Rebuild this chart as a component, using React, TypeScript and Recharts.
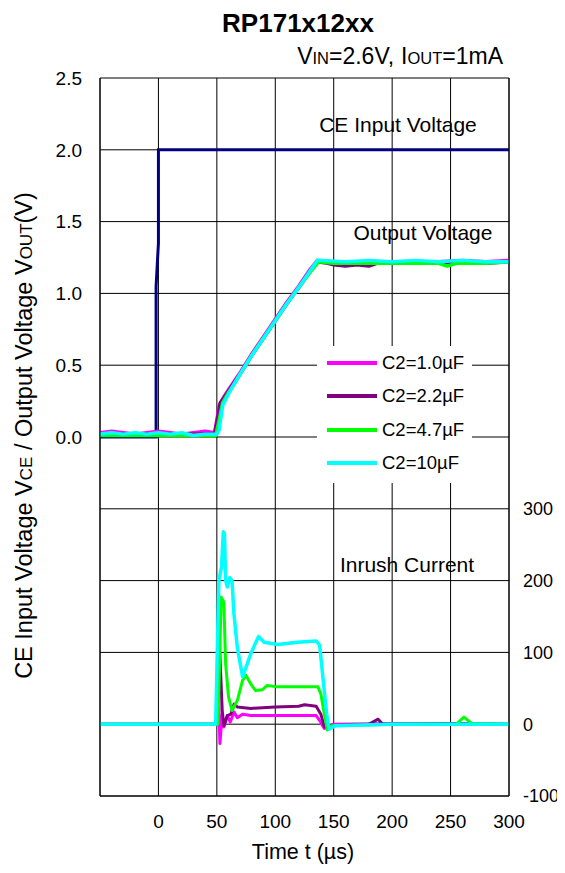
import React from 'react'
import { LineChart, Line, XAxis, YAxis, CartesianGrid, Legend } from 'recharts'

const FONT = 'Arial, "Liberation Sans", sans-serif'

// CE input voltage step (V)
const ceTime = [-50, -2, -2, 0, 0, 300]
const ceVolt = [0, 0, 1.05, 1.35, 2.0, 2.0]

// output voltage (V), left axis
const voTime1 = [-50, -40, -30, -20, -10, 0, 10, 20, 30, 40, 48, 50, 52, 56, 60, 65, 70, 80, 90, 100, 110, 120, 130, 136, 145, 160, 180, 200, 220, 240, 260, 280, 300]
const vo1 = [0.03, 0.04, 0.03, 0.02, 0.03, 0.04, 0.03, 0.02, 0.03, 0.04, 0.03, 0.12, 0.22, 0.28, 0.33, 0.39, 0.45, 0.58, 0.7, 0.82, 0.94, 1.05, 1.17, 1.23, 1.22, 1.22, 1.22, 1.21, 1.22, 1.22, 1.23, 1.22, 1.23]
const voTime2 = [-50, -30, -10, 10, 30, 48, 50, 53, 56, 60, 65, 70, 80, 90, 100, 110, 120, 130, 136, 145, 150, 160, 170, 180, 187, 200, 230, 260, 280, 300]
const vo2 = [0.02, 0.02, 0.02, 0.02, 0.02, 0.02, 0.1, 0.24, 0.27, 0.32, 0.38, 0.44, 0.57, 0.69, 0.81, 0.93, 1.04, 1.16, 1.22, 1.21, 1.2, 1.19, 1.2, 1.19, 1.21, 1.21, 1.21, 1.22, 1.21, 1.22]
const voTime3 = [-50, -30, -10, 10, 30, 49, 52, 55, 60, 65, 70, 80, 90, 100, 110, 120, 130, 137, 150, 180, 210, 240, 247, 255, 280, 300]
const vo3 = [0.01, 0.01, 0.01, 0.01, 0.01, 0.01, 0.12, 0.24, 0.31, 0.37, 0.44, 0.57, 0.69, 0.81, 0.93, 1.04, 1.15, 1.22, 1.21, 1.21, 1.21, 1.21, 1.19, 1.21, 1.21, 1.22]
const voTime4 = [-50, -40, -30, -20, -10, 0, 10, 20, 30, 40, 50, 52, 55, 60, 64, 70, 80, 90, 100, 110, 120, 130, 136, 140, 160, 180, 200, 220, 240, 260, 280, 300]
const vo4 = [0.02, 0.03, 0.02, 0.03, 0.02, 0.03, 0.02, 0.03, 0.01, 0.02, 0.02, 0.05, 0.22, 0.3, 0.36, 0.44, 0.57, 0.69, 0.81, 0.93, 1.04, 1.16, 1.23, 1.23, 1.22, 1.23, 1.22, 1.23, 1.22, 1.23, 1.22, 1.22]

// inrush current (mA), right axis
const irTime1 = [-50, 0, 50, 51, 52.6, 54.6, 56, 59, 61.5, 64.7, 67.5, 72, 79, 100, 120, 135, 138, 142, 146, 150, 200, 250, 300]
const ir1 = [0, 0, 0, 70, -27, 14, -4, 12, 3, 17, 9, 14, 12, 12, 12, 12, 5, -6, -2, 0, 1, 0, 0]
const irTime2 = [-50, 0, 50, 51, 52, 53, 54.6, 56, 59, 62, 64.7, 67.5, 79, 100, 120, 125, 135, 139, 142, 146, 180, 188, 192, 250, 300]
const ir2 = [0, 0, 0, 20, 121, 80, 19, -2, 12, 14, 28, 24, 22, 24, 25, 27, 25, 14, -4, -2, 0, 7, 0, 1, 0]
const irTime3 = [-50, 0, 51, 53.7, 56, 57.5, 60, 63, 67.5, 72, 75, 79, 83, 89, 93, 102, 119, 136.5, 139, 142, 144.5, 148, 200, 255, 261.5, 268, 300]
const ir3 = [0, 0, 0, 177, 170, 84, 38, 19, 33, 61, 68, 56, 47, 48, 54, 52, 52, 52, 42, 14, -8, -2, 0, 0, 10, 1, 0]
const irTime4 = [-50, 0, 49, 51.7, 54, 55.5, 56.5, 57.5, 59, 61, 63, 64.6, 67.5, 72, 79, 85.6, 90.5, 102, 119, 135, 138, 141, 144, 146, 151, 200, 300]
const ir4 = [0, 0, 0, 200, 219, 268, 265, 200, 191, 204, 200, 154, 107, 66, 98, 122, 114, 111, 114, 116, 110, 61, 14, -7, -2, 0, 0]

const capLabels = ['C2=1.0µF', 'C2=2.2µF', 'C2=4.7µF', 'C2=10µF']
const COLORS = ['#FF00FF', '#800080', '#00FF00', '#00FFFF']

const xTicks = [-50, 0, 50, 100, 150, 200, 250, 300]
const vTicks = [-2.5, -2, -1.5, -1, -0.5, 0, 0.5, 1, 1.5, 2, 2.5]
const iTicks = [-100, 0, 100, 200, 300]

const zip = (t: number[], v: number[]) => t.map((x, i) => ({ t: x, v: v[i] }))

const voltSeries = [zip(voTime1, vo1), zip(voTime2, vo2), zip(voTime3, vo3), zip(voTime4, vo4)]
const currSeries = [zip(irTime1, ir1), zip(irTime2, ir2), zip(irTime3, ir3), zip(irTime4, ir4)]

const tickStyle = { fill: '#000', fontSize: 19, fontFamily: FONT }

const renderLegend = () => (
  <div style={{ fontFamily: FONT, fontSize: 18.5, color: '#000' }}>
    {capLabels.map((name, i) => (
      <div key={name} style={{ height: 33.5, display: 'flex', alignItems: 'center' }}>
        <div style={{ width: 50, height: 4, marginLeft: 10, marginRight: 5, background: COLORS[i] }} />
        <span>{name}</span>
      </div>
    ))}
  </div>
)

export default function App() {
  return (
    <div style={{ position: 'relative', width: 557, height: 857 }}>
      <LineChart width={557} height={857} margin={{ top: 70, right: 0, bottom: 29, left: 32 }}>
        <CartesianGrid stroke="#000" strokeWidth={1} />
        <XAxis
          dataKey="t"
          type="number"
          domain={[-50, 300]}
          ticks={xTicks}
          interval={0}
          allowDataOverflow
          height={40}
          tick={tickStyle}
          tickLine={false}
          tickSize={0}
          tickMargin={18.5}
          axisLine={{ stroke: '#000' }}
          tickFormatter={(v: number) => (v < 0 ? '' : String(v))}
        />
        <YAxis
          type="number"
          domain={[-2.5, 2.5]}
          ticks={vTicks}
          interval={0}
          allowDataOverflow
          width={60}
          tick={tickStyle}
          tickLine={false}
          tickSize={0}
          tickMargin={18}
          axisLine={{ stroke: '#000' }}
          tickFormatter={(v: number) => (v < 0 ? '' : v.toFixed(1))}
        />
        <YAxis
          yAxisId="i"
          orientation="right"
          type="number"
          domain={[-100, 900]}
          ticks={iTicks}
          interval={0}
          allowDataOverflow
          width={56}
          tick={{ ...tickStyle, fontSize: 18 }}
          tickLine={false}
          tickSize={0}
          tickMargin={14}
          axisLine={{ stroke: '#000' }}
        />
        <Legend
          layout="vertical"
          align="center"
          verticalAlign="middle"
          content={renderLegend}
          wrapperStyle={{ left: 309, top: 338, width: 155, height: 137, backgroundColor: '#fff' }}
        />
        <Line
          data={zip(ceTime, ceVolt)}
          dataKey="v"
          stroke="#000080"
          strokeWidth={3}
          dot={false}
          legendType="none"
          isAnimationActive={false}
        />
        {voltSeries.map((d, i) => (
          <Line
            key={'v' + i}
            data={d}
            dataKey="v"
            name={capLabels[i]}
            stroke={COLORS[i]}
            strokeWidth={3.5}
            strokeLinejoin="round"
            dot={false}
            isAnimationActive={false}
          />
        ))}
        {currSeries.map((d, i) => (
          <Line
            key={'i' + i}
            data={d}
            dataKey="v"
            yAxisId="i"
            name={capLabels[i] + ' current'}
            stroke={COLORS[i]}
            strokeWidth={i === 3 ? 3.5 : 3}
            strokeLinejoin="round"
            dot={false}
            legendType="none"
            isAnimationActive={false}
          />
        ))}
      </LineChart>
      <svg
        width={557}
        height={857}
        style={{ position: 'absolute', left: 0, top: 0, pointerEvents: 'none' }}
        fontFamily={FONT}
        fill="#000"
      >
        <text x={290} y={24} textAnchor="middle" fontSize={26} fontWeight="bold">RP171x12xx</text>
        <text x={495} y={56} textAnchor="end" fontSize={23}>
          V<tspan fontSize={16.5}>IN</tspan>=2.6V,<tspan dx={7}>I</tspan><tspan fontSize={16.5}>OUT</tspan>=1mA
        </text>
        <text x={390} y={124} textAnchor="middle" fontSize={21}>CE Input Voltage</text>
        <text x={415} y={232} textAnchor="middle" fontSize={21}>Output Voltage</text>
        <text x={399} y={564} textAnchor="middle" fontSize={21}>Inrush Current</text>
        <text x={295} y={851} textAnchor="middle" fontSize={21.5}>Time t (µs)</text>
        <text transform="translate(24, 427.5) rotate(-90)" textAnchor="middle" fontSize={23.5}>
          CE Input Voltage V<tspan fontSize={17}>CE</tspan> / Output Voltage V<tspan fontSize={17}>OUT</tspan>(V)
        </text>
      </svg>
    </div>
  )
}
